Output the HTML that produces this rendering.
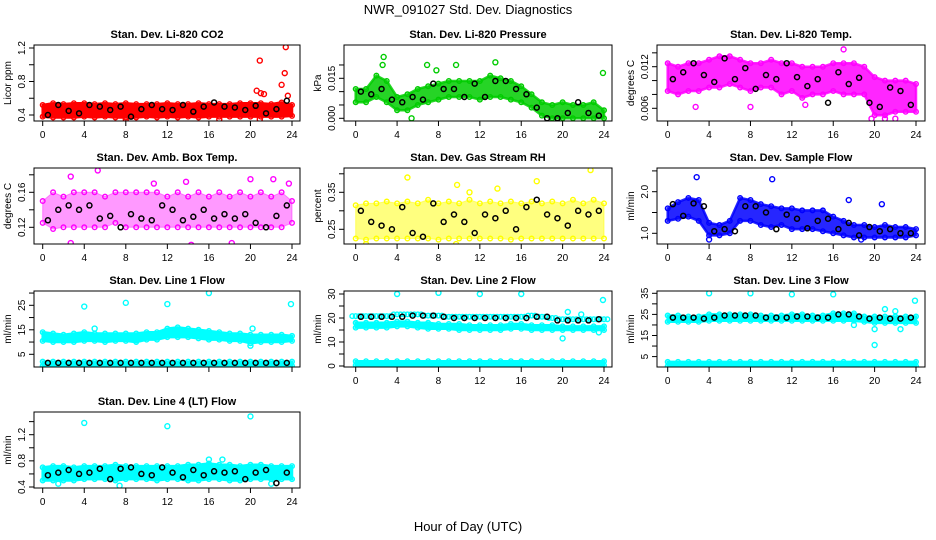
<!DOCTYPE html>
<html><head><meta charset="utf-8"><style>
body{margin:0;background:#fff;}
svg{display:block;font-family:"Liberation Sans",Arial,sans-serif;}
</style></head><body>
<svg id="chart" width="936" height="540" viewBox="0 0 936 540">
<text x="468" y="14" font-size="13" text-anchor="middle">NWR_091027  Std. Dev. Diagnostics</text>
<text x="468" y="531" font-size="13" text-anchor="middle">Hour of Day (UTC)</text>
</svg>
<script>
// ---- data ----
const hours = [0,1,2,3,4,5,6,7,8,9,10,11,12,13,14,15,16,17,18,19,20,21,22,23,24];
const blackHours = [0.5,1.5,2.5,3.5,4.5,5.5,6.5,7.5,8.5,9.5,10.5,11.5,12.5,13.5,14.5,15.5,16.5,17.5,18.5,19.5,20.5,21.5,22.5,23.5];
const xTicks = [0,4,8,12,16,20,24];

const co2Lo = [0.38,0.37,0.37,0.37,0.38,0.37,0.38,0.37,0.37,0.37,0.38,0.37,0.38,0.37,0.38,0.37,0.38,0.38,0.38,0.38,0.38,0.38,0.38,0.38,0.39];
const co2Hi = [0.52,0.54,0.53,0.54,0.54,0.53,0.54,0.53,0.54,0.53,0.53,0.53,0.54,0.53,0.53,0.54,0.53,0.53,0.53,0.54,0.54,0.54,0.53,0.55,0.52];
const co2Black = [0.40,0.52,0.45,0.42,0.52,0.50,0.46,0.50,0.38,0.47,0.52,0.47,0.46,0.52,0.44,0.50,0.55,0.50,0.49,0.46,0.51,0.42,0.47,0.57];
const co2OutX = [20.6,20.9,21.0,21.3,23.0,23.3,23.4,23.6,20.9,17.0,8.0];
const co2OutY = [0.69,1.05,0.66,0.65,0.76,0.90,1.21,0.63,0.35,0.35,0.35];

const presLo = [0.006,0.006,0.008,0.006,0.003,0.003,0.005,0.006,0.007,0.008,0.008,0.008,0.007,0.008,0.008,0.007,0.006,0.004,0.001,0.000,0.000,0.000,0.000,0.000,0.000];
const presHi = [0.011,0.011,0.016,0.014,0.008,0.009,0.011,0.012,0.013,0.014,0.014,0.014,0.014,0.016,0.015,0.014,0.012,0.009,0.006,0.005,0.006,0.005,0.005,0.006,0.003];
const presBlack = [0.010,0.009,0.011,0.007,0.006,0.008,0.007,0.013,0.011,0.011,0.008,0.013,0.008,0.014,0.014,0.011,0.009,0.004,0.000,0.000,0.002,0.006,0.002,0.001];
const presOutX = [2.7,2.6,6.9,9.7,13.5,23.9,5.4,7.8];
const presOutY = [0.023,0.020,0.020,0.020,0.021,0.017,0.000,0.018];

const tempLo = [0.0085,0.008,0.0085,0.0085,0.009,0.009,0.0095,0.009,0.0085,0.009,0.009,0.008,0.0085,0.0075,0.008,0.008,0.0085,0.008,0.008,0.008,0.005,0.005,0.0055,0.0055,0.0055];
const tempHi = [0.0125,0.012,0.0125,0.0125,0.013,0.0135,0.0135,0.013,0.0125,0.0125,0.013,0.0125,0.0125,0.012,0.012,0.012,0.0125,0.0125,0.0125,0.012,0.0105,0.010,0.010,0.010,0.0095];
const tempBlack = [0.0102,0.0112,0.0125,0.0108,0.0098,0.0132,0.0102,0.0118,0.0088,0.0108,0.0102,0.0125,0.0105,0.0092,0.0102,0.0068,0.0112,0.0095,0.0104,0.0068,0.0062,0.0090,0.0085,0.0065];
const tempOutX = [17.0,8.0,19.7,21.0,22.0,2.7,13.3];
const tempOutY = [0.0145,0.0062,0.0045,0.0045,0.0045,0.0062,0.0065];

const boxLo = [0.125,0.118,0.12,0.12,0.12,0.12,0.12,0.125,0.12,0.12,0.12,0.12,0.12,0.12,0.12,0.12,0.12,0.12,0.12,0.12,0.12,0.12,0.12,0.12,0.125];
const boxHi = [0.15,0.16,0.155,0.16,0.16,0.16,0.155,0.16,0.16,0.16,0.16,0.16,0.155,0.16,0.155,0.16,0.155,0.16,0.155,0.16,0.155,0.16,0.155,0.16,0.15];
const boxBlack = [0.128,0.14,0.145,0.14,0.145,0.13,0.133,0.12,0.135,0.13,0.128,0.145,0.14,0.128,0.132,0.14,0.13,0.135,0.13,0.135,0.125,0.12,0.133,0.145];
const boxOutX = [2.7,5.3,14.3,2.7,20.0,22.2,23.7,18.2,10.7,13.8];
const boxOutY = [0.178,0.185,0.100,0.102,0.175,0.175,0.170,0.102,0.170,0.172];

const rhLo = [0.225,0.222,0.225,0.225,0.225,0.225,0.225,0.225,0.222,0.225,0.225,0.225,0.225,0.225,0.225,0.222,0.225,0.225,0.225,0.225,0.225,0.225,0.225,0.225,0.225];
const rhHi = [0.315,0.32,0.32,0.325,0.32,0.325,0.32,0.33,0.32,0.325,0.32,0.33,0.32,0.325,0.32,0.325,0.32,0.325,0.32,0.325,0.32,0.33,0.32,0.33,0.32];
const rhBlack = [0.30,0.27,0.26,0.25,0.31,0.24,0.23,0.32,0.27,0.29,0.27,0.24,0.29,0.28,0.30,0.25,0.31,0.33,0.29,0.28,0.26,0.30,0.29,0.30];
const rhOutX = [5.0,9.8,17.5,22.7,13.7,11.0,1.0,9.7];
const rhOutY = [0.39,0.37,0.38,0.41,0.36,0.35,0.21,0.21];

const sfLo = [1.3,1.35,1.4,1.3,0.95,0.95,1.0,1.3,1.3,1.2,1.15,1.2,1.1,1.1,1.1,1.05,1.0,0.95,0.9,0.9,0.9,0.9,0.9,0.9,0.95];
const sfHi = [1.6,1.75,1.85,1.8,1.25,1.2,1.3,1.85,1.8,1.7,1.65,1.6,1.6,1.55,1.55,1.55,1.4,1.3,1.2,1.2,1.15,1.2,1.15,1.15,1.1];
const sfBlack = [1.7,1.42,1.72,1.65,1.05,1.1,1.05,1.65,1.65,1.5,1.1,1.45,1.35,1.12,1.3,1.35,1.1,1.25,0.95,1.15,1.05,1.1,1.0,1.0];
const sfOutX = [2.8,10.1,20.0,17.5,20.7,4.0,18.7];
const sfOutY = [2.35,2.3,2.8,1.8,1.7,0.85,0.85];

const l1Lo = [10.5,10,10,10,10.5,10.5,10,10.5,10.5,10,11,11,12,12,12,11.5,11,11,10.5,10.5,9.5,10,10,10,10.5];
const l1Hi = [14,13.5,13,13.5,14,13.5,13.5,13.5,13.5,13.5,14,14,15.5,16,15.5,15,14.5,14,13.5,13.5,13,13,13,13,12.5];
const l1BaseLo = [0.3,0.3,0.3,0.3,0.3,0.3,0.3,0.3,0.3,0.3,0.3,0.3,0.3,0.3,0.3,0.3,0.3,0.3,0.3,0.3,0.3,0.3,0.3,0.3,0.3];
const l1BaseHi = [2,2,2,2,2,2,2,2,2,2,2,2,2,2,2,2,2,2,2,2,2,2,2,2,2];
const l1Black = [1.5,1.5,1.5,1.5,1.5,1.5,1.5,1.5,1.5,1.5,1.5,1.5,1.5,1.5,1.5,1.5,1.5,1.5,1.5,1.5,1.5,1.5,1.5,1.5];
const l1OutX = [4,8,12,16,23.9,5,20.2,20];
const l1OutY = [24.5,26,25.5,30,25.5,15.5,15.5,8.5];

const l2Lo = [16,16,16,16,16.5,16.5,16,15.5,15.5,15.5,15,15,15,15,15,15.5,15.5,15,15,15,15,15,15,15,15];
const l2Hi = [18,18,18,18,18.5,18.5,18,18,17.5,17.5,17.5,17,17,17,17,17.5,17.5,17,17,17,16.5,16.5,16.5,16.5,16.5];
const l2Upper = [20.8,20.8,20.8,20.8,21.5,21.5,21.5,21,21,20.5,20.5,20.5,20.5,20.5,20.5,20.5,20.5,21,20.5,20,19.5,19.5,19.5,19.5,19.5];
const l2BaseLo = [0.3,0.3,0.3,0.3,0.3,0.3,0.3,0.3,0.3,0.3,0.3,0.3,0.3,0.3,0.3,0.3,0.3,0.3,0.3,0.3,0.3,0.3,0.3,0.3,0.3];
const l2BaseHi = [2,2,2,2,2,2,2,2,2,2,2,2,2,2,2,2,2,2,2,2,2,2,2,2,2];
const l2Black = [20.5,20.5,20.5,20.5,20.5,21,21,21,20.5,20,20,20,20,20,20,20,20,20.5,20.5,19,19,19,19,19.5];
const l2OutX = [4,8,12,16,23.9,20,20.5,21.8,23.5];
const l2OutY = [30,30.5,30,30,27.5,11.5,22.5,21.5,14];

const l3Lo = [21.5,21.5,21.5,21.5,22,22,22,22,22,22,22,22,22,22,22,22,22,22,22,21.5,21,21,21,21,21];
const l3Hi = [24.5,24.5,24,24,25,25,25,25,25,24.5,24.5,24.5,25,25,24.5,24.5,25.5,25.5,25.5,24,24,24,24,24,24];
const l3BaseLo = [0.5,0.5,0.5,0.5,0.5,0.5,0.5,0.5,0.5,0.5,0.5,0.5,0.5,0.5,0.5,0.5,0.5,0.5,0.5,0.5,0.5,0.5,0.5,0.5,0.5];
const l3BaseHi = [2.5,2.5,2.5,2.5,2.5,2.5,2.5,2.5,2.5,2.5,2.5,2.5,2.5,2.5,2.5,2.5,2.5,2.5,2.5,2.5,2.5,2.5,2.5,2.5,2.5];
const l3Black = [23.5,23.5,23.5,23,23.5,24.5,24.5,24.5,24.5,23.5,23.5,23.5,24,24,23.5,23.5,25,25,24,23,23.5,23,23,23.5];
const l3OutX = [4,8,12,16,23.9,20,20,21,22,22.5,18];
const l3OutY = [35,35,34.5,34.5,31.5,10.5,18,27.5,26.5,18,20];

const l4Lo = [0.5,0.5,0.5,0.5,0.52,0.52,0.52,0.5,0.52,0.52,0.52,0.5,0.52,0.52,0.5,0.5,0.52,0.52,0.5,0.5,0.52,0.52,0.52,0.52,0.52];
const l4Hi = [0.7,0.72,0.72,0.7,0.72,0.72,0.72,0.74,0.72,0.72,0.72,0.72,0.72,0.72,0.74,0.74,0.76,0.74,0.74,0.72,0.74,0.74,0.72,0.72,0.72];
const l4Black = [0.58,0.62,0.66,0.6,0.62,0.68,0.52,0.68,0.7,0.6,0.58,0.7,0.62,0.55,0.66,0.58,0.64,0.62,0.64,0.52,0.62,0.66,0.46,0.62];
const l4OutX = [4,12,20,7.4,1.5,22,16,17.3];
const l4OutY = [1.38,1.33,1.48,0.42,0.45,0.45,0.82,0.82];

// ---- tick arrays ----
const co2Ticks=[0.4,0.6,0.8,1.0,1.2], co2Labels=["0.4","","0.8","","1.2"];
const presTicks=[0,0.005,0.01,0.015,0.02], presLabels=["0.000","","","0.015",""];
const tempTicks=[0.006,0.008,0.010,0.012,0.014], tempLabels=["0.006","","","0.012",""];
const boxTicks=[0.12,0.14,0.16,0.18], boxLabels=["0.12","","0.16",""];
const rhTicks=[0.25,0.30,0.35,0.40], rhLabels=["0.25","","0.35",""];
const sfTicks=[1.0,1.5,2.0,2.5], sfLabels=["1.0","","2.0",""];
const l1Ticks=[5,10,15,20,25,30], l1Labels=["5","","15","","25",""];
const l2Ticks=[0,5,10,15,20,25,30], l2Labels=["0","","10","","20","","30"];
const l3Ticks=[5,10,15,20,25,30,35], l3Labels=["5","","15","","25","","35"];
const l4Ticks=[0.4,0.6,0.8,1.0,1.2,1.4], l4Labels=["0.4","","0.8","","1.2",""];

// ---- layout ----
const svg=document.getElementById('chart');
const NS='http://www.w3.org/2000/svg';
const cols=[{l:34,r:300,x0:42.7,x24:292},{l:344,r:612,x0:355.7,x24:604},{l:657,r:925,x0:667.7,x24:916}];
const rowTops=[45,168,291,412];
const boxH=76;

function mk(tag,attrs,parent){const e=document.createElementNS(NS,tag);for(const k in attrs)e.setAttribute(k,attrs[k]);(parent||svg).appendChild(e);return e;}

function panel(opt){
  const c=cols[opt.col], top=rowTops[opt.row], bot=top+boxH;
  const xs=h=>c.x0+(h/24)*(c.x24-c.x0);
  const ys=v=>top+opt.pa+(v-opt.va)*(opt.pb-opt.pa)/(opt.vb-opt.va);
  const g=mk('g',{});
  
  
  const t=mk('text',{x:(c.l+c.r)/2,y:top-7,'font-size':11,'font-weight':'bold','text-anchor':'middle'},g);
  t.textContent=opt.title;
  
  
  const yt=mk('text',{x:0,y:0,'font-size':10,'text-anchor':'middle',transform:`translate(${c.l-23},${top+boxH/2}) rotate(-90)`},g);
  yt.textContent=opt.ylab;
  
  
  const cid='clip-'+opt.name;
  const cp=mk('clipPath',{id:cid},g);
  mk('rect',{x:c.l,y:top,width:c.r-c.l,height:boxH},cp);
  const pg=mk('g',{'clip-path':`url(#${cid})`},g);
  
  
  (opt.bands||[]).forEach((b,bi)=>{
    let pts=hours.map((h,i)=>xs(h)+','+ys(b.hi[i]));
    pts=pts.concat(hours.slice().reverse().map((h,j)=>{const i=hours.length-1-j;return xs(h)+','+ys(b.lo[i]);}));
    const p=mk('polygon',{points:pts.join(' '),fill:opt.color,'fill-opacity':opt.op||1,stroke:opt.color,'stroke-width':opt.sw||2.5,'stroke-opacity':opt.op||1},pg);
    
    
    hours.forEach((h,i)=>{
      [b.lo[i],b.hi[i]].forEach(v=>{
        const ci=mk('circle',{cx:xs(h),cy:ys(v),r:2.3,fill:'none',stroke:opt.color,'stroke-width':1.4},pg);
        
        
      });
    });
  });
  (opt.extra||[]).forEach(arr=>{
    hours.forEach((h,i)=>{
      for(let k=-1;k<=1;k++){
        const ci=mk('circle',{cx:xs(h)+k*3.4,cy:ys(arr[i]),r:2.3,fill:'none',stroke:opt.color,'stroke-width':1.4},pg);
        
        
      }
    });
  });
  opt.outX.forEach((h,i)=>{
    const ci=mk('circle',{cx:xs(h),cy:ys(opt.outY[i]),r:2.5,fill:'none',stroke:opt.color,'stroke-width':1.4},pg);
    
    
  });
  blackHours.forEach((h,i)=>{
    const ci=mk('circle',{cx:xs(h),cy:ys(opt.black[i]),r:2.5,fill:'none',stroke:'#000','stroke-width':1.5},pg);
    
    
  });
  const bx=mk('rect',{x:c.l,y:top,width:c.r-c.l,height:boxH,fill:'none',stroke:'#000','stroke-width':1},g);
  
  
  mk('line',{x1:c.x0,x2:c.x24,y1:bot,y2:bot,stroke:'#000'},g);
  xTicks.forEach(h=>{
    mk('line',{x1:xs(h),x2:xs(h),y1:bot,y2:bot+5,stroke:'#000'},g);
    if(opt.xlabels){
      const tx=mk('text',{x:xs(h),y:bot+17,'font-size':10,'text-anchor':'middle'},g);
      tx.textContent=String(h);
      
      
    }
  });
  const yv=opt.ticks.map(ys);
  mk('line',{x1:c.l,x2:c.l,y1:yv[0],y2:yv[yv.length-1],stroke:'#000'},g);
  opt.ticks.forEach((v,i)=>{
    mk('line',{x1:c.l-5,x2:c.l,y1:ys(v),y2:ys(v),stroke:'#000'},g);
    if(opt.labels[i]){
      const tx=mk('text',{x:0,y:0,'font-size':10,'text-anchor':'middle',transform:`translate(${c.l-9},${ys(v)}) rotate(-90)`},g);
      tx.textContent=opt.labels[i];
      
      
    }
  });
}

panel({name:'co2',title:'Stan. Dev. Li-820 CO2',ylab:'Licor ppm',col:0,row:0,va:1.2,pa:3,vb:0.4,pb:70,color:'#ff0000',bands:[{lo:co2Lo,hi:co2Hi}],black:co2Black,outX:co2OutX,outY:co2OutY,ticks:co2Ticks,labels:co2Labels,xlabels:true});
panel({name:'pressure',title:'Stan. Dev. Li-820 Pressure',ylab:'kPa',col:1,row:0,va:0.015,pa:33.3,vb:0,pb:73.3,color:'#00cc00',op:0.85,bands:[{lo:presLo,hi:presHi}],black:presBlack,outX:presOutX,outY:presOutY,ticks:presTicks,labels:presLabels,xlabels:true});
panel({name:'li820-temp',title:'Stan. Dev. Li-820 Temp.',ylab:'degrees C',col:2,row:0,va:0.012,pa:21.7,vb:0.006,pb:63.3,color:'#ff00ff',op:0.85,bands:[{lo:tempLo,hi:tempHi}],black:tempBlack,outX:tempOutX,outY:tempOutY,ticks:tempTicks,labels:tempLabels,xlabels:true});
panel({name:'amb-box-temp',title:'Stan. Dev. Amb. Box Temp.',ylab:'degrees C',col:0,row:1,va:0.16,pa:24.3,vb:0.12,pb:59.3,color:'#ff00ff',op:0.4,sw:1,bands:[{lo:boxLo,hi:boxHi}],black:boxBlack,outX:boxOutX,outY:boxOutY,ticks:boxTicks,labels:boxLabels,xlabels:true});
panel({name:'gas-rh',title:'Stan. Dev. Gas Stream RH',ylab:'percent',col:1,row:1,va:0.35,pa:24.3,vb:0.25,pb:61.3,color:'#ffff00',op:0.5,sw:1,bands:[{lo:rhLo,hi:rhHi}],black:rhBlack,outX:rhOutX,outY:rhOutY,ticks:rhTicks,labels:rhLabels,xlabels:true});
panel({name:'sample-flow',title:'Stan. Dev. Sample Flow',ylab:'ml/min',col:2,row:1,va:2.0,pa:23.7,vb:1.0,pb:65.3,color:'#0000ff',op:0.85,bands:[{lo:sfLo,hi:sfHi}],black:sfBlack,outX:sfOutX,outY:sfOutY,ticks:sfTicks,labels:sfLabels,xlabels:true});
panel({name:'line1-flow',title:'Stan. Dev. Line 1 Flow',ylab:'ml/min',col:0,row:2,va:25,pa:14.3,vb:5,pb:63.3,color:'#00ffff',bands:[{lo:l1Lo,hi:l1Hi},{lo:l1BaseLo,hi:l1BaseHi}],black:l1Black,outX:l1OutX,outY:l1OutY,ticks:l1Ticks,labels:l1Labels,xlabels:false});
panel({name:'line2-flow',title:'Stan. Dev. Line 2 Flow',ylab:'ml/min',col:1,row:2,va:30,pa:3,vb:0,pb:75,color:'#00ffff',bands:[{lo:l2Lo,hi:l2Hi},{lo:l2BaseLo,hi:l2BaseHi}],extra:[l2Upper],black:l2Black,outX:l2OutX,outY:l2OutY,ticks:l2Ticks,labels:l2Labels,xlabels:true});
panel({name:'line3-flow',title:'Stan. Dev. Line 3 Flow',ylab:'ml/min',col:2,row:2,va:35,pa:2.3,vb:5,pb:65.6,color:'#00ffff',bands:[{lo:l3Lo,hi:l3Hi},{lo:l3BaseLo,hi:l3BaseHi}],black:l3Black,outX:l3OutX,outY:l3OutY,ticks:l3Ticks,labels:l3Labels,xlabels:true});
panel({name:'line4-flow',title:'Stan. Dev. Line 4 (LT) Flow',ylab:'ml/min',col:0,row:3,va:1.2,pa:22.7,vb:0.4,pb:75,color:'#00ffff',bands:[{lo:l4Lo,hi:l4Hi}],black:l4Black,outX:l4OutX,outY:l4OutY,ticks:l4Ticks,labels:l4Labels,xlabels:true});
</script>
</body></html>
